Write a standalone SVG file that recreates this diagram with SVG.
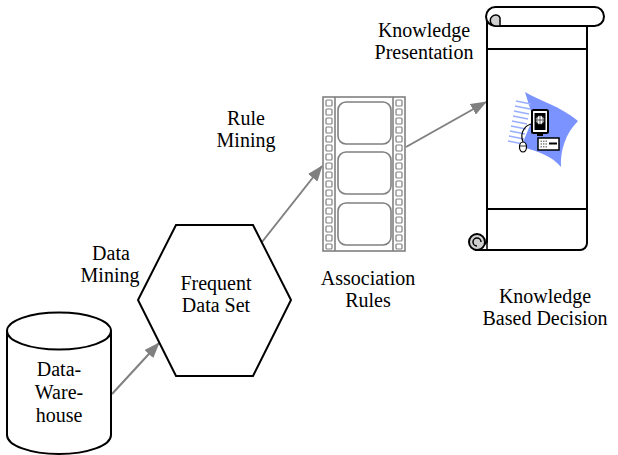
<svg xmlns="http://www.w3.org/2000/svg" width="618" height="455" viewBox="0 0 618 455">
  <defs>
    <marker id="arrow" viewBox="0 0 16 12" refX="15" refY="6" markerWidth="16" markerHeight="12" markerUnits="userSpaceOnUse" orient="auto">
      <path d="M0 0 L16 6 L0 12 Z" fill="#808080"/>
    </marker>
  </defs>
  <style>
    .shape { fill: #fff; stroke: #000; stroke-width: 2; }
    .edge { fill: none; stroke: #808080; stroke-width: 2; }
    .film { fill: none; stroke: #808080; stroke-width: 1.6; }
    .hole { fill: #fff; stroke: #808080; stroke-width: 1.2; }
  </style>
  <rect width="618" height="455" fill="#fff"/>

  <!-- connectors -->
  <g id="connectors">
    <line class="edge" x1="112" y1="394" x2="159" y2="343" marker-end="url(#arrow)"/>
    <line class="edge" x1="262" y1="242" x2="322" y2="166" marker-end="url(#arrow)"/>
    <line class="edge" x1="406" y1="147" x2="486" y2="102" marker-end="url(#arrow)"/>
  </g>

  <!-- data warehouse cylinder -->
  <g id="warehouse">
    <path class="shape" d="M7 331 L7 435 A52 19 0 0 0 111 435 L111 331"/>
    <ellipse class="shape" cx="59" cy="331" rx="52" ry="18.5"/>
    <text x="59" y="376" style="font-family:'Liberation Serif',serif;font-size:20px;text-anchor:middle">Data-</text>
    <text x="59" y="399" style="font-family:'Liberation Serif',serif;font-size:20px;text-anchor:middle">Ware-</text>
    <text x="59" y="422" style="font-family:'Liberation Serif',serif;font-size:20px;text-anchor:middle">house</text>
  </g>

  <!-- frequent data set hexagon -->
  <g id="frequent">
    <polygon class="shape" points="176,225 253,225 291,300 253,376 176,376 138,300"/>
    <text x="216" y="290" style="font-family:'Liberation Serif',serif;font-size:20px;text-anchor:middle">Frequent</text>
    <text x="216" y="312" style="font-family:'Liberation Serif',serif;font-size:20px;text-anchor:middle">Data Set</text>
  </g>

  <!-- association rules film strip -->
  <g id="association">
    <rect class="film" x="323" y="97" width="82" height="154"/>
    <line class="film" x1="335" y1="97" x2="335" y2="251"/>
    <line class="film" x1="393" y1="97" x2="393" y2="251"/>
    <g id="holes">
      <rect class="hole" x="326" y="100" width="6" height="6" rx="1"/>
      <rect class="hole" x="326" y="109" width="6" height="6" rx="1"/>
      <rect class="hole" x="326" y="118" width="6" height="6" rx="1"/>
      <rect class="hole" x="326" y="127" width="6" height="6" rx="1"/>
      <rect class="hole" x="326" y="136" width="6" height="6" rx="1"/>
      <rect class="hole" x="326" y="145" width="6" height="6" rx="1"/>
      <rect class="hole" x="326" y="154" width="6" height="6" rx="1"/>
      <rect class="hole" x="326" y="163" width="6" height="6" rx="1"/>
      <rect class="hole" x="326" y="172" width="6" height="6" rx="1"/>
      <rect class="hole" x="326" y="181" width="6" height="6" rx="1"/>
      <rect class="hole" x="326" y="190" width="6" height="6" rx="1"/>
      <rect class="hole" x="326" y="199" width="6" height="6" rx="1"/>
      <rect class="hole" x="326" y="208" width="6" height="6" rx="1"/>
      <rect class="hole" x="326" y="217" width="6" height="6" rx="1"/>
      <rect class="hole" x="326" y="226" width="6" height="6" rx="1"/>
      <rect class="hole" x="326" y="235" width="6" height="6" rx="1"/>
      <rect class="hole" x="326" y="244" width="6" height="5" rx="1"/>
    </g>
    <use href="#holes" x="70"/>
    <rect class="film" x="338" y="102" width="53" height="42" rx="8"/>
    <rect class="film" x="338" y="152" width="53" height="42" rx="8"/>
    <rect class="film" x="338" y="203" width="53" height="42" rx="8"/>
    <text x="368" y="285" style="font-family:'Liberation Serif',serif;font-size:20px;text-anchor:middle">Association</text>
    <text x="368" y="307" style="font-family:'Liberation Serif',serif;font-size:20px;text-anchor:middle">Rules</text>
  </g>

  <!-- knowledge presentation scroll -->
  <g id="presentation">
    <!-- body -->
    <path class="shape" d="M487 18 L487 242 L477 250 L580 250 A7 7 0 0 0 587 243 L587 26 Z"/>
    <line stroke="#000" stroke-width="2" x1="487" y1="49" x2="587" y2="49"/>
    <line stroke="#000" stroke-width="2" x1="487" y1="209" x2="587" y2="209"/>
    <!-- top roll -->
    <path class="shape" d="M495.5 7 L594.5 7 A9.5 9.5 0 0 1 594.5 26 L495.5 26 A9.5 9.5 0 0 1 495.5 7 Z"/>
    <path d="M495.5 26 A5 5 0 0 1 496 15 A4 4 0 0 1 500 20 L500 26 Z" fill="#d0d0d0" stroke="#000" stroke-width="1.5"/>
    <!-- bottom curl -->
    <circle cx="477" cy="242" r="8" fill="#d0d0d0" stroke="#000" stroke-width="2"/>
    <path d="M477 250 L487 250 L487 242 M481 242 A4 4 0 1 0 477 246" fill="none" stroke="#000" stroke-width="1.5"/>
    <!-- computer icon -->
    <path d="M525 92 C540 101 560 106 578 121 C566 133 560 150 561 167 C552 156 538 151 521 147 L533 118 Z" fill="#7b93ff"/>
    <g stroke="#9aaeff" stroke-width="1.6">
      <line x1="516" y1="101" x2="531" y2="104"/>
      <line x1="515" y1="106" x2="530" y2="109"/>
      <line x1="514" y1="111" x2="529" y2="114"/>
      <line x1="513" y1="116" x2="528" y2="119"/>
      <line x1="512" y1="121" x2="527" y2="124"/>
      <line x1="511" y1="126" x2="526" y2="129"/>
      <line x1="510" y1="131" x2="525" y2="134"/>
      <line x1="509" y1="136" x2="524" y2="139"/>
      <line x1="508" y1="141" x2="523" y2="144"/>
    </g>
    <path d="M523 142 C519 132 526 124 533 124" fill="none" stroke="#000" stroke-width="1.2"/>
    <rect x="532" y="110" width="16" height="23" rx="1.5" fill="#fff" stroke="#000" stroke-width="2"/>
    <rect x="534.5" y="113" width="11" height="17" fill="#000"/>
    <circle cx="540" cy="120" r="4.5" fill="#fff" stroke="#000" stroke-width="0.8"/>
    <path d="M540 115.5 V124.5 M535.5 120 H544.5 M537.5 116 Q536 120 537.5 124 M542.5 116 Q544 120 542.5 124" fill="none" stroke="#000" stroke-width="0.6"/>
    <rect x="537" y="133" width="6" height="3" fill="#000"/>
    <rect x="538" y="138" width="21" height="12" fill="#fff" stroke="#000" stroke-width="1.5"/>
    <g fill="#888">
      <rect x="540.5" y="140.5" width="1.5" height="1.5"/>
      <rect x="543" y="140.5" width="1.5" height="1.5"/>
      <rect x="545.5" y="140.5" width="1.5" height="1.5"/>
      <rect x="540.5" y="143.2" width="1.5" height="1.5"/>
      <rect x="543" y="143.2" width="1.5" height="1.5"/>
      <rect x="545.5" y="143.2" width="1.5" height="1.5"/>
      <rect x="540.5" y="146" width="1.5" height="1.5"/>
      <rect x="543" y="146" width="1.5" height="1.5"/>
      <rect x="545.5" y="146" width="1.5" height="1.5"/>
    </g>
    <rect x="549" y="142.5" width="8" height="2" fill="#000"/>
    <ellipse cx="523" cy="147" rx="3.5" ry="5" fill="#fff" stroke="#000" stroke-width="1.2"/>
    <line x1="519.5" y1="146" x2="526.5" y2="146" stroke="#000" stroke-width="0.8"/>
  </g>

  <!-- edge labels -->
  <g id="labels">
    <text x="111" y="260" style="font-family:'Liberation Serif',serif;font-size:20px;text-anchor:middle">Data</text>
    <text x="110" y="282" style="font-family:'Liberation Serif',serif;font-size:20px;text-anchor:middle">Mining</text>
    <text x="246" y="125" style="font-family:'Liberation Serif',serif;font-size:20px;text-anchor:middle">Rule</text>
    <text x="246" y="147" style="font-family:'Liberation Serif',serif;font-size:20px;text-anchor:middle">Mining</text>
    <text x="424" y="37" style="font-family:'Liberation Serif',serif;font-size:20px;text-anchor:middle">Knowledge</text>
    <text x="424" y="59" style="font-family:'Liberation Serif',serif;font-size:20px;text-anchor:middle">Presentation</text>
    <text x="545" y="303" style="font-family:'Liberation Serif',serif;font-size:20px;text-anchor:middle">Knowledge</text>
    <text x="545" y="325" style="font-family:'Liberation Serif',serif;font-size:20px;text-anchor:middle">Based Decision</text>
  </g>
</svg>
